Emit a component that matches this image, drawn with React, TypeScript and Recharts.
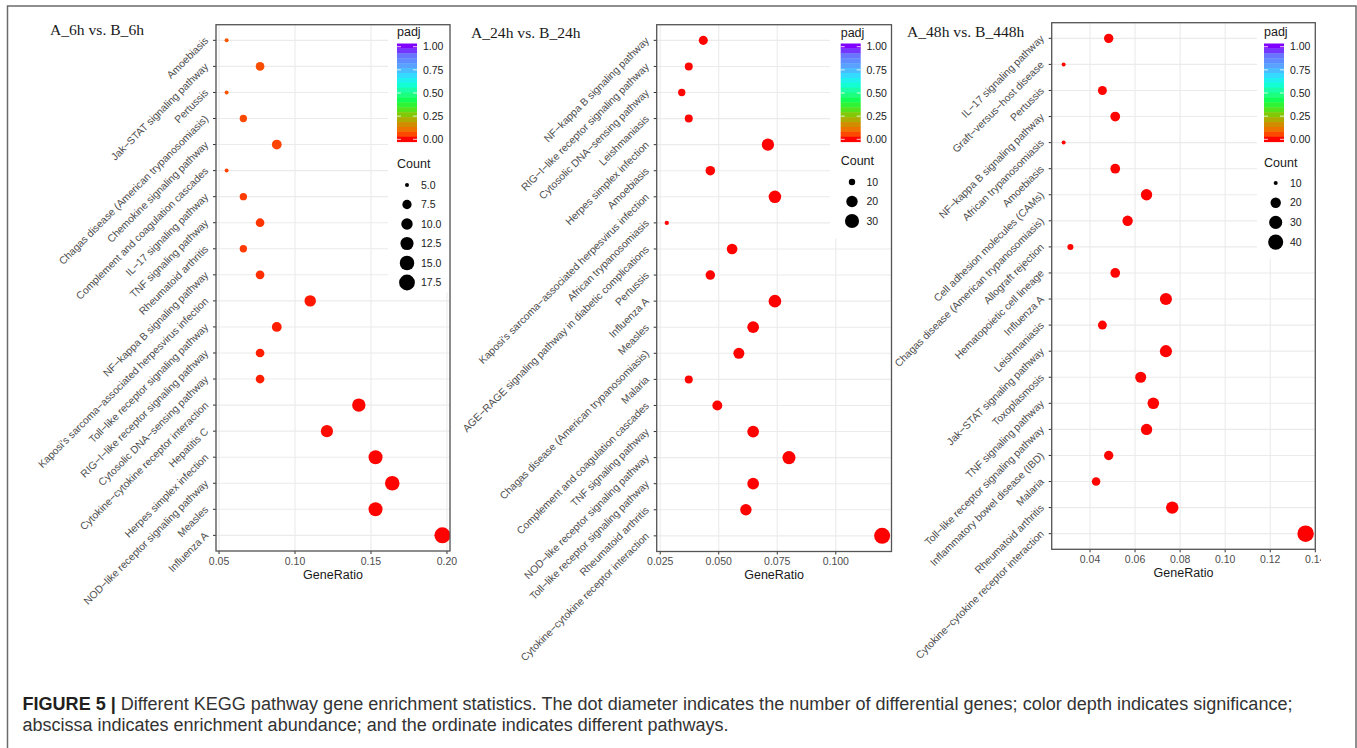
import React from "react";
import { ScatterChart, Scatter, XAxis, YAxis, CartesianGrid } from "recharts";

const FONT = "'Liberation Sans', Arial, Helvetica, sans-serif";
const SERIF = "'Liberation Serif', 'Times New Roman', serif";

// ---- A_6h vs. B_6h ----
const terms6h = [
  "Amoebiasis",
  "Jak−STAT signaling pathway",
  "Pertussis",
  "Chagas disease (American trypanosomiasis)",
  "Chemokine signaling pathway",
  "Complement and coagulation cascades",
  "IL−17 signaling pathway",
  "TNF signaling pathway",
  "Rheumatoid arthritis",
  "NF−kappa B signaling pathway",
  "Kaposi's sarcoma−associated herpesvirus infection",
  "Toll−like receptor signaling pathway",
  "RIG−I−like receptor signaling pathway",
  "Cytosolic DNA−sensing pathway",
  "Cytokine−cytokine receptor interaction",
  "Hepatitis C",
  "Herpes simplex infection",
  "NOD−like receptor signaling pathway",
  "Measles",
  "Influenza A",
];
const ratio6h = [0.055, 0.077, 0.055, 0.066, 0.088, 0.055, 0.066, 0.077, 0.066, 0.077, 0.110, 0.088, 0.077, 0.077, 0.142, 0.121, 0.153, 0.164, 0.153, 0.197];
const count6h = [5, 7, 5, 6, 8, 5, 6, 7, 6, 7, 10, 8, 7, 7, 13, 11, 14, 15, 14, 18];
const padj6h = [0.07, 0.06, 0.065, 0.055, 0.05, 0.048, 0.04, 0.035, 0.038, 0.03, 0.015, 0.02, 0.02, 0.02, 0.003, 0.008, 0.002, 0.002, 0.002, 0.0005];
const ticks6h = [0.05, 0.1, 0.15, 0.2];
const minor6h = [0.075, 0.125, 0.175];
const sizeBreaks6h = [5, 7.5, 10, 12.5, 15, 17.5];

// ---- A_24h vs. B_24h ----
const terms24h = [
  "NF−kappa B signaling pathway",
  "RIG−I−like receptor signaling pathway",
  "Cytosolic DNA−sensing pathway",
  "Leishmaniasis",
  "Herpes simplex infection",
  "Amoebiasis",
  "Kaposi's sarcoma−associated herpesvirus infection",
  "African trypanosomiasis",
  "AGE−RAGE signaling pathway in diabetic complications",
  "Pertussis",
  "Influenza A",
  "Measles",
  "Chagas disease (American trypanosomiasis)",
  "Malaria",
  "Complement and coagulation cascades",
  "TNF signaling pathway",
  "NOD−like receptor signaling pathway",
  "Toll−like receptor signaling pathway",
  "Rheumatoid arthritis",
  "Cytokine−cytokine receptor interaction",
];
const ratio24h = [0.0434, 0.0372, 0.0342, 0.0372, 0.071, 0.0464, 0.074, 0.0278, 0.0557, 0.0464, 0.074, 0.0647, 0.0586, 0.0372, 0.0494, 0.0647, 0.08, 0.0647, 0.0616, 0.1198];
const count24h = [14, 12, 11, 12, 23, 15, 24, 9, 18, 15, 24, 21, 19, 12, 16, 21, 26, 21, 20, 39];
const padj24h = [0.002, 0.003, 0.003, 0.003, 0.0005, 0.002, 0.0005, 0.004, 0.001, 0.002, 0.0005, 0.001, 0.001, 0.003, 0.002, 0.001, 0.0003, 0.001, 0.001, 0.0001];
const ticks24h = [0.025, 0.05, 0.075, 0.1];
const minor24h = [0.0375, 0.0625, 0.0875, 0.1125];
const sizeBreaks24h = [10, 20, 30];

// ---- A_48h vs. B_448h ----
const terms48h = [
  "IL−17 signaling pathway",
  "Graft−versus−host disease",
  "Pertussis",
  "NF−kappa B signaling pathway",
  "African trypanosomiasis",
  "Amoebiasis",
  "Cell adhesion molecules (CAMs)",
  "Chagas disease (American trypanosomiasis)",
  "Allograft rejection",
  "Hematopoietic cell lineage",
  "Influenza A",
  "Leishmaniasis",
  "Jak−STAT signaling pathway",
  "Toxoplasmosis",
  "TNF signaling pathway",
  "Toll−like receptor signaling pathway",
  "Inflammatory bowel disease (IBD)",
  "Malaria",
  "Rheumatoid arthritis",
  "Cytokine−cytokine receptor interaction",
];
const ratio48h = [0.0483, 0.0283, 0.0455, 0.0512, 0.0283, 0.0512, 0.0651, 0.0567, 0.0313, 0.0512, 0.0737, 0.0455, 0.0737, 0.0625, 0.0681, 0.0651, 0.0483, 0.0427, 0.0765, 0.1357];
const count48h = [17, 10, 16, 18, 10, 18, 23, 20, 11, 18, 26, 16, 26, 22, 24, 23, 17, 15, 27, 48];
const padj48h = [0.002, 0.004, 0.002, 0.002, 0.004, 0.002, 0.001, 0.001, 0.004, 0.002, 0.0005, 0.002, 0.0005, 0.001, 0.001, 0.001, 0.002, 0.003, 0.0005, 0.0001];
const ticks48h = [0.04, 0.06, 0.08, 0.1, 0.12, 0.14];
const minor48h = [0.03, 0.05, 0.07, 0.09, 0.11, 0.13];
const sizeBreaks48h = [10, 20, 30, 40];

const padjBreaks = [1, 0.75, 0.5, 0.25, 0];

// rainbow-ish padj colour scale
const padjStops: [number, string][] = [
  [0, "#FF0000"],
  [0.04, "#FF3C00"],
  [0.1, "#F07000"],
  [0.18, "#C89600"],
  [0.25, "#8EC000"],
  [0.33, "#4CE820"],
  [0.42, "#10FF50"],
  [0.5, "#20FF90"],
  [0.6, "#10FFE0"],
  [0.68, "#30E0FF"],
  [0.78, "#58A8FF"],
  [0.9, "#6878FF"],
  [1, "#8000FF"],
];

const hexRgb = (h: string) => [1, 3, 5].map((i) => parseInt(h.slice(i, i + 2), 16));

const padjColor = (v: number) => {
  if (v <= padjStops[0][0]) return padjStops[0][1];
  for (let i = 1; i < padjStops.length; i++) {
    const [v1, c1] = padjStops[i];
    if (v <= v1) {
      const [v0, c0] = padjStops[i - 1];
      const t = (v - v0) / (v1 - v0);
      const a = hexRgb(c0);
      const b = hexRgb(c1);
      const m = a.map((x, k) => Math.round(x + (b[k] - x) * t));
      return `rgb(${m[0]},${m[1]},${m[2]})`;
    }
  }
  return padjStops[padjStops.length - 1][1];
};

const makeSize = (counts: number[], dmin: number, dmax: number) => {
  const lo = Math.min(...counts);
  const hi = Math.max(...counts);
  return (c: number) => dmin + (dmax - dmin) * Math.sqrt(Math.max(0, (c - lo) / (hi - lo)));
};

const panels = [
  {
    title: "A_6h vs. B_6h", titleX: 50, titleY: 35,
    terms: terms6h, ratio: ratio6h, count: count6h, padj: padj6h,
    ticks: ticks6h, minor: minor6h, digits: 2, domain: [0.048, 0.202],
    sizeBreaks: sizeBreaks6h, sizeDigits: 1, dmin: 4, dmax: 16,
    chartLeft: 8, chartRight: 465, plotLeft: 216, plotRight: 450, plotTop: 24.7, plotBottom: 551,
    legend: { boxX: 388, boxY: 25.5, boxW: 61.5, boxH: 267, barX: 397, labelX: 423, padjY: 36, countY: 168, keyY0: 185, keyStep: 19.5, keyX: 407, keyLabelX: 421 },
  },
  {
    title: "A_24h vs. B_24h", titleX: 471, titleY: 38,
    terms: terms24h, ratio: ratio24h, count: count24h, padj: padj24h,
    ticks: ticks24h, minor: minor24h, digits: 3, domain: [0.0235, 0.1238],
    sizeBreaks: sizeBreaks24h, sizeDigits: 0, dmin: 4.3, dmax: 16,
    chartLeft: 452, chartRight: 905, plotLeft: 656.7, plotRight: 891.5, plotTop: 24.7, plotBottom: 551.5,
    legend: { boxX: 830, boxY: 25.5, boxW: 61, boxH: 213, barX: 840.7, labelX: 866.5, padjY: 36.5, countY: 165, keyY0: 182, keyStep: 19.5, keyX: 852, keyLabelX: 866.5 },
  },
  {
    title: "A_48h vs. B_448h", titleX: 907, titleY: 37,
    terms: terms48h, ratio: ratio48h, count: count48h, padj: padj48h,
    ticks: ticks48h, minor: minor48h, digits: 2, domain: [0.023, 0.14],
    sizeBreaks: sizeBreaks48h, sizeDigits: 0, dmin: 4, dmax: 16.5,
    chartLeft: 876, chartRight: 1321, plotLeft: 1051.7, plotRight: 1315.3, plotTop: 22.7, plotBottom: 549.3,
    legend: { boxX: 1257, boxY: 23.5, boxW: 57.5, boxH: 235, barX: 1264, labelX: 1290, padjY: 35.5, countY: 166.5, keyY0: 183, keyStep: 19.7, keyX: 1275.7, keyLabelX: 1290 },
  },
];

const CHART_H = 680;
const BAR_TOP = 43.5;
const BAR_BOTTOM = 141.7;
const barY = (v: number) => 139.3 - 92.6 * v;

const YTick = (props: any) => {
  const { x, y, payload } = props;
  const ty = y + 1;
  return (
    <text x={x} y={ty} transform={`rotate(-45 ${x} ${ty})`} textAnchor="end" fontSize={10.4} fill="#4D4D4D" fontFamily={FONT}>
      {payload.value}
    </text>
  );
};

const Panel = ({ cfg }: { cfg: any }) => {
  const rows = cfg.terms.map((term: string, i: number) => ({
    term,
    ratio: cfg.ratio[i],
    count: cfg.count[i],
    padj: cfg.padj[i],
  }));
  const size = makeSize(cfg.count, cfg.dmin, cfg.dmax);
  const plotH = cfg.plotBottom - cfg.plotTop;
  const pad = (0.6 * plotH) / (cfg.terms.length + 0.2);
  const L = cfg.legend;
  const bands = [];
  const nb = 20;
  for (let i = 0; i < nb; i++) {
    const y0 = BAR_TOP + ((BAR_BOTTOM - BAR_TOP) * i) / nb;
    const y1 = BAR_TOP + ((BAR_BOTTOM - BAR_TOP) * (i + 1)) / nb;
    const v = Math.min(1, Math.max(0, (139.3 - (y0 + y1) / 2) / 92.6));
    bands.push(<rect key={i} x={L.barX} y={y0} width={20} height={y1 - y0 + 0.4} fill={padjColor(v)} />);
  }

  return (
    <>
      <div style={{ position: "absolute", left: cfg.chartLeft, top: 0 }}>
        <ScatterChart
          width={cfg.chartRight - cfg.chartLeft}
          height={CHART_H}
          margin={{ top: cfg.plotTop, right: cfg.chartRight - cfg.plotRight, bottom: 0, left: 0 }}
        >
          <CartesianGrid stroke="#EBEBEB" strokeWidth={1.1} />
          <CartesianGrid
            stroke="#F2F2F2"
            strokeWidth={0.6}
            horizontal={false}
            verticalCoordinatesGenerator={({ xAxis }: any) =>
              xAxis && typeof xAxis.scale === "function" ? cfg.minor.map((v: number) => xAxis.scale(v)) : []
            }
          />
          <XAxis
            type="number"
            dataKey="ratio"
            domain={cfg.domain}
            allowDataOverflow
            ticks={cfg.ticks}
            interval={0}
            tickFormatter={(v: number) => v.toFixed(cfg.digits)}
            tick={{ fontSize: 10.5, fill: "#4D4D4D", fontFamily: FONT }}
            tickSize={3}
            tickMargin={3.5}
            tickLine={{ stroke: "#333333" }}
            axisLine={false}
            height={CHART_H - cfg.plotBottom}
            label={{ value: "GeneRatio", position: "insideTop", offset: 19, fontSize: 12.5, fill: "#1A1A1A", fontFamily: FONT }}
          />
          <YAxis
            type="category"
            dataKey="term"
            scale="point"
            reversed
            padding={{ top: pad, bottom: pad }}
            width={cfg.plotLeft - cfg.chartLeft}
            interval={0}
            tick={(p: any) => <YTick {...p} />}
            tickSize={3}
            tickMargin={4}
            tickLine={{ stroke: "#333333" }}
            axisLine={false}
          />
          <Scatter
            data={rows}
            isAnimationActive={false}
            shape={(p: any) => (
              <circle cx={p.cx} cy={p.cy} r={size(p.payload.count) / 2} fill={padjColor(p.payload.padj)} />
            )}
          />
        </ScatterChart>
      </div>
      <svg width={1357} height={748} style={{ position: "absolute", left: 0, top: 0, pointerEvents: "none" }}>
        <rect x={L.boxX} y={L.boxY} width={L.boxW} height={L.boxH} fill="#FFFFFF" />
        <text x={L.barX} y={L.padjY} fontSize={12.5} fill="#1A1A1A" fontFamily={FONT}>padj</text>
        {bands}
        {padjBreaks.map((b) => (
          <g key={b}>
            <line x1={L.barX} x2={L.barX + 4} y1={barY(b)} y2={barY(b)} stroke="#FFFFFF" strokeWidth={0.8} />
            <line x1={L.barX + 16} x2={L.barX + 20} y1={barY(b)} y2={barY(b)} stroke="#FFFFFF" strokeWidth={0.8} />
            <text x={L.labelX} y={barY(b)} dy="0.36em" fontSize={10.5} fill="#1A1A1A" fontFamily={FONT}>
              {b.toFixed(2)}
            </text>
          </g>
        ))}
        <text x={L.barX} y={L.countY} fontSize={12.5} fill="#1A1A1A" fontFamily={FONT}>Count</text>
        {cfg.sizeBreaks.map((s: number, i: number) => (
          <g key={s}>
            <circle cx={L.keyX} cy={L.keyY0 + i * L.keyStep} r={size(s) / 2} fill="#000000" />
            <text x={L.keyLabelX} y={L.keyY0 + i * L.keyStep} dy="0.36em" fontSize={10.5} fill="#1A1A1A" fontFamily={FONT}>
              {s.toFixed(cfg.sizeDigits)}
            </text>
          </g>
        ))}
        <rect
          x={cfg.plotLeft}
          y={cfg.plotTop}
          width={cfg.plotRight - cfg.plotLeft}
          height={cfg.plotBottom - cfg.plotTop}
          fill="none"
          stroke="#555555"
          strokeWidth={1.3}
        />
        <text x={cfg.titleX} y={cfg.titleY} fontSize={15.6} fill="#1A1A1A" fontFamily={SERIF}>
          {cfg.title}
        </text>
      </svg>
    </>
  );
};

export default function App() {
  return (
    <div style={{ position: "absolute", left: 0, top: 0, width: 1357, height: 748, overflow: "hidden", background: "#FFFFFF" }}>
      {panels.map((cfg) => (
        <Panel key={cfg.title} cfg={cfg} />
      ))}
      <svg width={1357} height={748} style={{ position: "absolute", left: 0, top: 0, pointerEvents: "none" }}>
        <rect x={7.5} y={6} width={1348.5} height={800} fill="none" stroke="#6B6B6B" strokeWidth={1.5} />
        <text x={22.5} y={710} fontSize={18} fill="#333333" fontFamily={FONT} textLength={1270} lengthAdjust="spacingAndGlyphs">
          <tspan fontWeight="bold" fill="#231F20">FIGURE 5 | </tspan>
          Different KEGG pathway gene enrichment statistics. The dot diameter indicates the number of differential genes; color depth indicates significance;
        </text>
        <text x={22.5} y={730.5} fontSize={18} fill="#333333" fontFamily={FONT}>
          abscissa indicates enrichment abundance; and the ordinate indicates different pathways.
        </text>
      </svg>
    </div>
  );
}
